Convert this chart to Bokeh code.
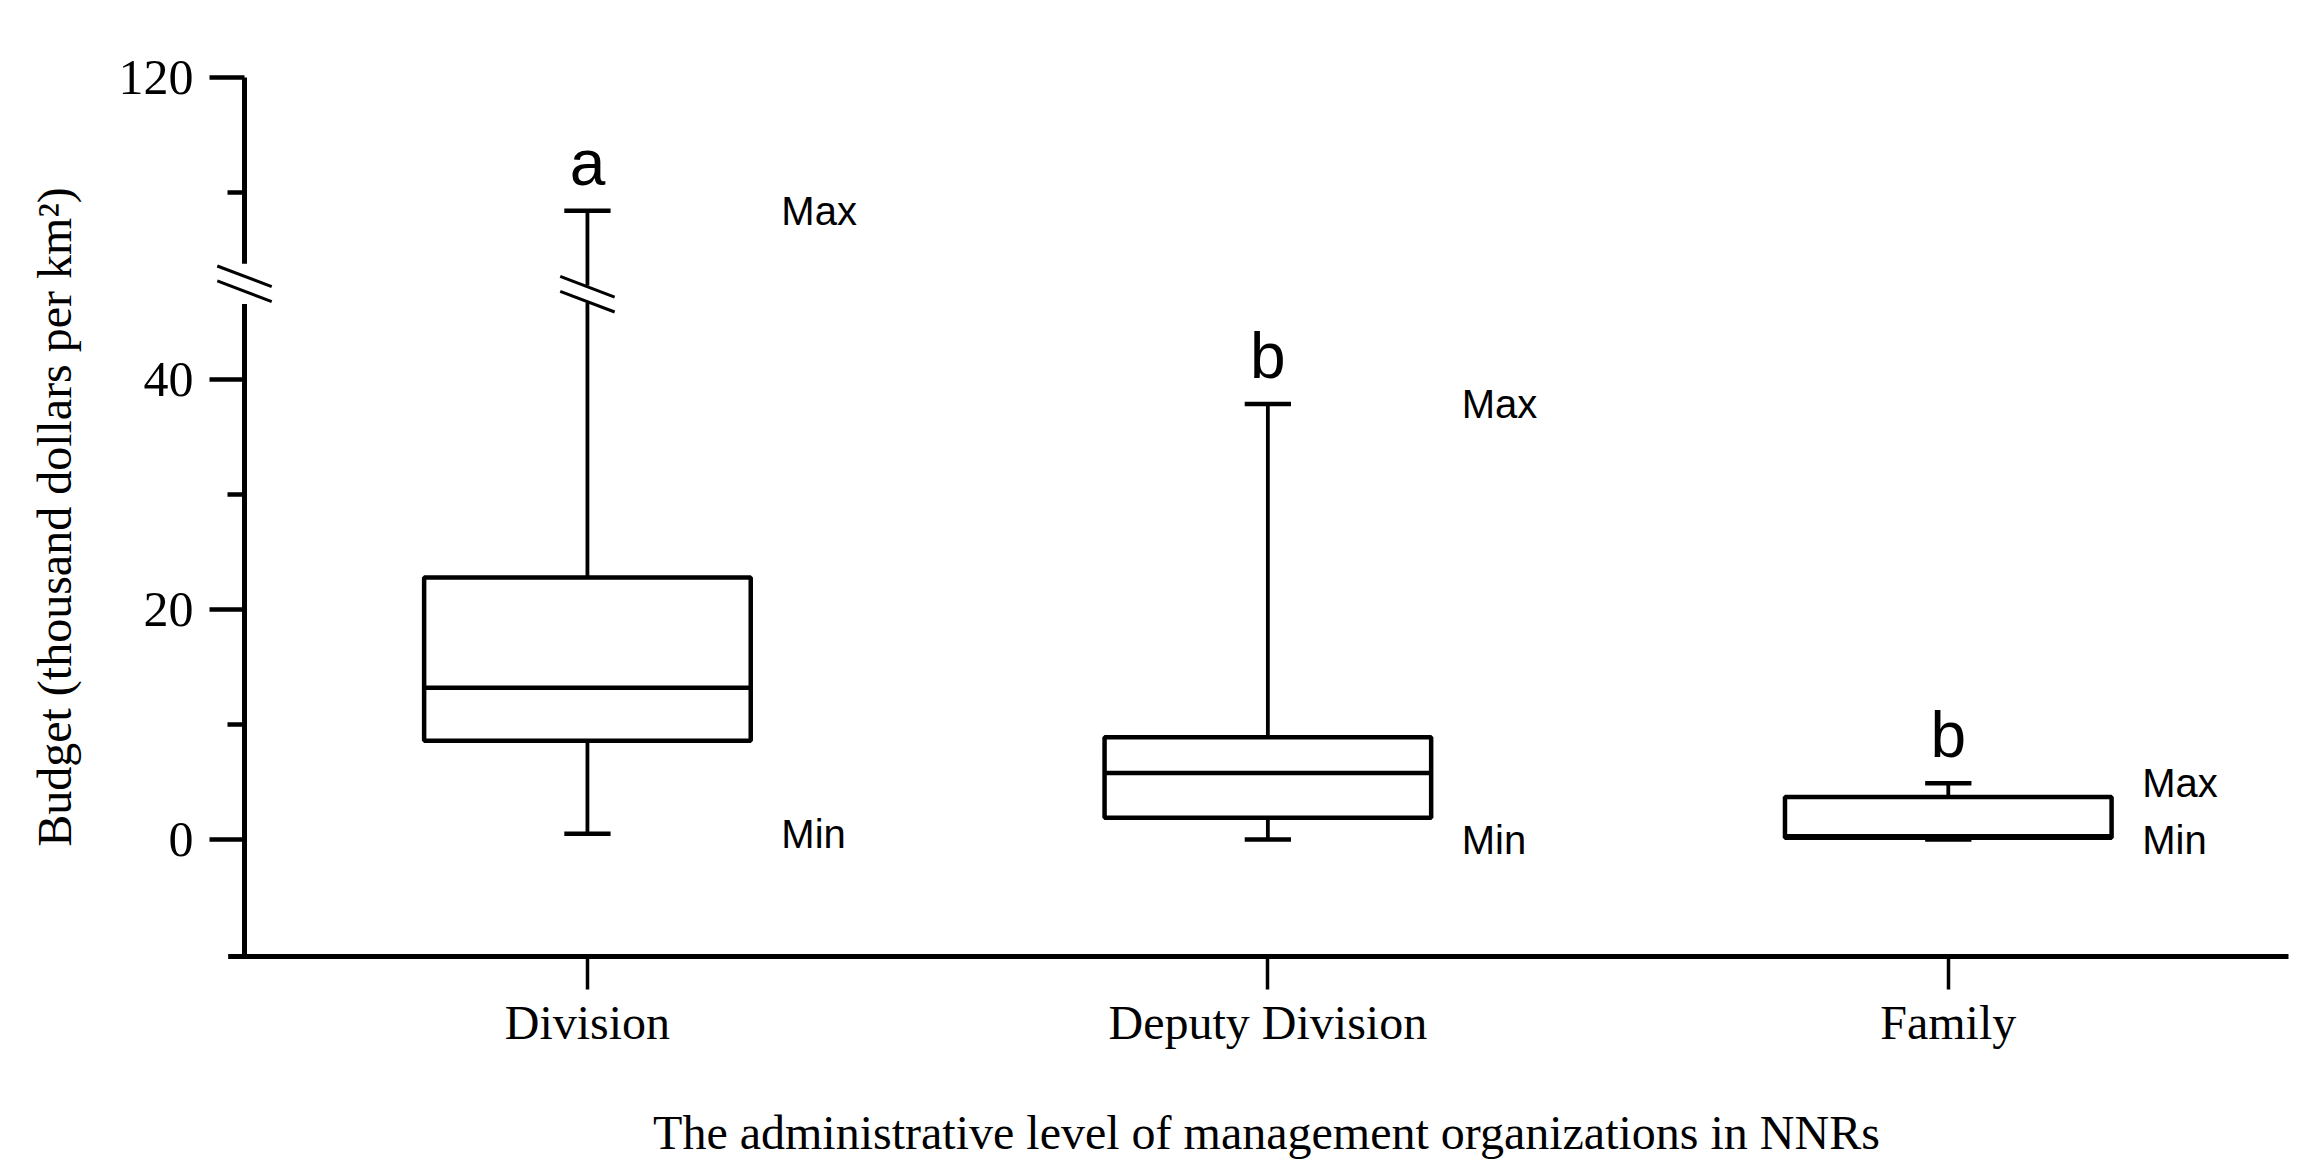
from bokeh.plotting import figure
from bokeh.models import ColumnDataSource, FixedTicker, Range1d
from bokeh.embed import file_html
from bokeh.resources import INLINE
from bokeh.core.properties import value

# ---------------- data ----------------
categories = ["Division", "Deputy Division", "Family"]
q1 = [8.6, 1.9, 0.15]
median = [13.2, 5.8, 0.3]
q3 = [22.8, 8.9, 3.7]
mins = [0.5, 0.0, 0.0]
maxs = [108.4, 37.9, 4.9]
letters = ["a", "b", "b"]

y_major = [0, 20, 40, 120]
y_minor = [10, 30, 110]
y_bottom = -10.17
y_top = 120
break_low, break_high = 46.6, 103.8   # values hidden between these (axis break)
break_gap = 3.5                        # display units taken by the gap

x_title = "The administrative level of management organizations in NNRs"
y_title = "Budget (thousand dollars per km\u00b2)"

# ---------------- helpers ----------------
shift = break_high - break_low - break_gap


def disp(v):
    return v if v <= break_low else v - shift


pos = [i + 0.5 for i in range(len(categories))]
x_start = -0.004
half_box = 0.24
half_cap = 0.034

p = figure(
    frame_width=2044, frame_height=879,
    min_border_left=244, min_border_right=20, min_border_top=77, min_border_bottom=215,
    x_range=Range1d(x_start, len(categories)),
    y_range=Range1d(y_bottom, disp(y_top)),
    output_backend="svg", toolbar_location=None,
    background_fill_color="white", border_fill_color="white",
)
p.outline_line_color = None
p.xgrid.visible = False
p.ygrid.visible = False

BOX_LW = 4.5
WH_LW = 3.8

# ---------------- boxes ----------------
src = ColumnDataSource(dict(
    x=pos,
    left=[x - half_box for x in pos], right=[x + half_box for x in pos],
    q1=q1, q3=q3, med=median,
    lo=[disp(v) for v in mins], hi=[disp(v) for v in maxs],
    cl=[x - half_cap for x in pos], cr=[x + half_cap for x in pos],
))

# lower whiskers
p.segment(x0="x", y0="lo", x1="x", y1="q1", source=src, line_color="black", line_width=WH_LW)
p.segment(x0="cl", y0="lo", x1="cr", y1="lo", source=src, line_color="black", line_width=BOX_LW)

# upper whiskers (split where they cross the axis break)
wk_gap = (break_low + 0.1, break_low + 1.6)
ux0, uy0, uy1 = [], [], []
brk_x = []
for x, top_box, mx in zip(pos, q3, maxs):
    if mx > break_low:
        ux0 += [x, x]
        uy0 += [top_box, wk_gap[1]]
        uy1 += [wk_gap[0], disp(mx)]
        brk_x.append(x)
    else:
        ux0.append(x)
        uy0.append(top_box)
        uy1.append(mx)
p.segment(x0=ux0, y0=uy0, x1=ux0, y1=uy1, line_color="black", line_width=WH_LW)
p.segment(x0="cl", y0="hi", x1="cr", y1="hi", source=src, line_color="black", line_width=BOX_LW)

p.quad(left="left", right="right", bottom="q1", top="q3", source=src,
       fill_color="white", line_color="black", line_width=BOX_LW)
p.segment(x0="left", y0="med", x1="right", y1="med", source=src, line_color="black", line_width=BOX_LW)

# break marks
sdx, sdy, sep = 0.04, 0.9, 0.65


def slashes(xc, yc):
    xs0, ys0, xs1, ys1 = [], [], [], []
    for dy in (sep, -sep):
        xs0.append(xc - sdx)
        ys0.append(yc + dy + sdy)
        xs1.append(xc + sdx)
        ys1.append(yc + dy - sdy)
    return xs0, ys0, xs1, ys1


for bx in brk_x:
    a, b, c, d = slashes(bx, (wk_gap[0] + wk_gap[1]) / 2)
    p.segment(x0=a, y0=b, x1=c, y1=d, line_color="black", line_width=3)

# ---------------- axes lines (drawn by hand for the break) ----------------
ax_lw = 5
p.segment(x0=[x_start, x_start], y0=[y_bottom, break_low + break_gap],
          x1=[x_start, x_start], y1=[break_low, disp(y_top)],
          line_color="black", line_width=ax_lw, level="overlay")
p.segment(x0=[x_start - 0.024], y0=[y_bottom], x1=[len(categories)], y1=[y_bottom],
          line_color="black", line_width=ax_lw, level="overlay")
a, b, c, d = slashes(x_start, break_low + break_gap / 2)
p.segment(x0=a, y0=b, x1=c, y1=d, line_color="black", line_width=3, level="overlay")

# ---------------- labels ----------------
p.text(x=pos, y=[disp(v) for v in maxs], text=letters, y_offset=-48,
       text_align="center", text_baseline="alphabetic",
       text_font=value("Liberation Sans"), text_font_size="64px", text_color="black")
p.text(x=[x + 0.285 for x in pos], y=[disp(v) for v in maxs], text=["Max"] * len(pos),
       text_align="left", text_baseline="middle",
       text_font=value("Liberation Sans"), text_font_size="40px", text_color="black")
p.text(x=[x + 0.285 for x in pos], y=[disp(v) for v in mins], text=["Min"] * len(pos),
       text_align="left", text_baseline="middle",
       text_font=value("Liberation Sans"), text_font_size="40px", text_color="black")

# ---------------- axis styling ----------------
xa = p.xaxis[0]
xa.ticker = FixedTicker(ticks=pos)
xa.major_label_overrides = {x: c for x, c in zip(pos, categories)}
xa.axis_line_color = None
xa.major_tick_in = 0
xa.major_tick_out = 33
xa.major_tick_line_width = 3.5
xa.minor_tick_line_color = None
xa.major_label_standoff = 6
xa.major_label_text_font = "Liberation Serif"
xa.major_label_text_font_size = "48px"
xa.major_label_text_color = "black"
xa.axis_label = x_title
xa.axis_label_text_font = "Liberation Serif"
xa.axis_label_text_font_size = "48px"
xa.axis_label_text_font_style = "normal"
xa.axis_label_text_color = "black"
xa.axis_label_standoff = 54

ya = p.yaxis[0]
ya.ticker = FixedTicker(ticks=[disp(v) for v in y_major], minor_ticks=[disp(v) for v in y_minor])
ya.major_label_overrides = {disp(v): str(v) for v in y_major}
ya.axis_line_color = None
ya.major_tick_in = 0
ya.major_tick_out = 35
ya.major_tick_line_width = 4.5
ya.minor_tick_in = 0
ya.minor_tick_out = 17
ya.minor_tick_line_width = 4.5
ya.major_label_standoff = 16
ya.major_label_text_font = "Liberation Serif"
ya.major_label_text_font_size = "50px"
ya.major_label_text_color = "black"
ya.axis_label = y_title
ya.axis_label_text_font = "Liberation Serif"
ya.axis_label_text_font_size = "48px"
ya.axis_label_text_font_style = "normal"
ya.axis_label_text_color = "black"
ya.axis_label_standoff = 35

open("out.html", "w").write(file_html(p, INLINE))
